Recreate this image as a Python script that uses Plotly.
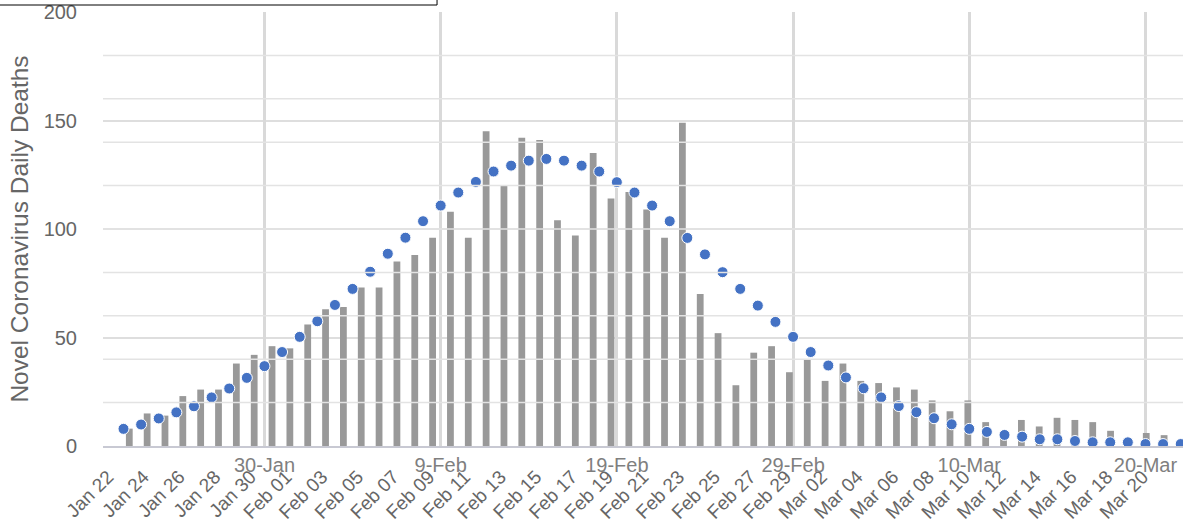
import plotly.graph_objects as go
import pandas as pd

# ---- data ----
bar_dates = [d.strftime("%b %d") for d in pd.date_range("2020-01-22", "2020-03-20")]
daily_deaths = [8, 15, 14, 23, 26, 26, 38, 42, 46, 45,
                56, 63, 64, 73, 73, 85, 88, 96, 108, 96,
                145, 120, 142, 141, 104, 97, 135, 114, 117, 109,
                96, 149, 70, 52, 28, 43, 46, 34, 40, 30,
                38, 30, 29, 27, 26, 21, 16, 21, 11, 6,
                12, 9, 13, 12, 11, 7, 3, 6, 5]

curve_dates = [d.strftime("%Y-%m-%d") for d in pd.date_range("2020-01-22", "2020-03-22")]
fitted_curve = [7.9, 9.9, 12.7, 15.5, 18.3, 22.4, 26.5, 31.4, 36.8, 43.3,
                50.3, 57.5, 65.0, 72.4, 80.3, 88.6, 96.0, 103.6, 110.8, 116.8,
                121.7, 126.5, 129.2, 131.5, 132.3, 131.5, 129.2, 126.5, 121.6, 116.8,
                110.8, 103.6, 95.9, 88.3, 80.1, 72.4, 64.7, 57.2, 50.3, 43.3,
                37.1, 31.6, 26.6, 22.4, 18.4, 15.6, 12.8, 10.0, 7.9, 6.5,
                5.1, 4.3, 3.1, 3.1, 2.3, 1.7, 1.7, 1.7, 0.9, 0.9, 0.9]

bar_tick_labels = bar_dates[::2]
date_ticks = ["2020-01-30", "2020-02-09", "2020-02-19", "2020-02-29", "2020-03-10", "2020-03-20"]
y_ticks = [0, 50, 100, 150, 200]
minor_grid = [20, 40, 60, 80, 100, 120, 140, 160, 180]

FONT = "Liberation Sans, Arial, sans-serif"
GRAY = "#666666"

bar_pos = list(range(len(bar_dates)))           # category slots
label_shift = -1.2                              # rotated labels sit left of their slot
bar_tick_pos = [p + label_shift for p in bar_pos[::2]]

fig = go.Figure()
fig.add_trace(go.Bar(
    x=bar_pos, y=daily_deaths, xaxis="x", yaxis="y",
    marker=dict(color="#999999", line=dict(width=0)), width=0.38,
    customdata=bar_dates, hovertemplate="%{customdata}: %{y}<extra></extra>",
    showlegend=False,
))
fig.add_trace(go.Scatter(
    x=curve_dates, y=fitted_curve, xaxis="x2", yaxis="y2", mode="markers",
    marker=dict(color="#4472C4", size=11, line=dict(color="white", width=1)),
    showlegend=False,
))

shapes = [dict(type="line", xref="paper", x0=0, x1=1, yref="y", y0=v, y1=v,
               line=dict(color="#e3e3e3", width=1.5), layer="above") for v in minor_grid]
shapes.append(dict(type="rect", xref="paper", yref="paper", x0=-0.3, x1=0.3093,
                   y0=1.0161, y1=1.2, line=dict(color="black", width=1), layer="above"))

fig.update_layout(
    width=1188, height=527,
    margin=dict(l=103, r=5, t=12, b=81, autoexpand=False),
    paper_bgcolor="white", plot_bgcolor="white",
    font=dict(family=FONT, color=GRAY),
    xaxis=dict(type="linear", range=[-1.474, 59.06], tickmode="array",
               tickvals=bar_tick_pos, ticktext=bar_tick_labels, tickangle=-45,
               tickfont=dict(size=19, color=GRAY, family=FONT), showgrid=False,
               zeroline=False, showline=False, ticks="", ticklabelstandoff=15),
    xaxis2=dict(type="date", overlaying="x", side="bottom", anchor="y",
                range=["2020-01-20 20:05", "2020-03-22 03:07"],
                tickmode="array", tickvals=date_ticks, tickformat="%-d-%b",
                tickfont=dict(size=20, color="#7f7f7f", family=FONT),
                showgrid=True, gridcolor="#d9d9d9", gridwidth=2.5,
                showline=True, linecolor="#c8c9d3", linewidth=2, ticks="",
                zeroline=False),
    yaxis=dict(range=[0, 200], tickmode="array", tickvals=y_ticks,
               showgrid=True, gridcolor="#dedede", gridwidth=1.5, zeroline=False,
               tickfont=dict(size=20, color=GRAY, family=FONT), ticks="",
               ticklabelstandoff=25,
               title=dict(text="Novel Coronavirus Daily Deaths",
                          font=dict(size=24.5, color=GRAY, family=FONT), standoff=8)),
    yaxis2=dict(overlaying="y", range=[0, 200], showticklabels=False,
                showgrid=False, zeroline=False),
    shapes=shapes,
)

fig.write_html("out.html", config={"displayModeBar": False},
               post_script="document.body.style.margin='0';")
